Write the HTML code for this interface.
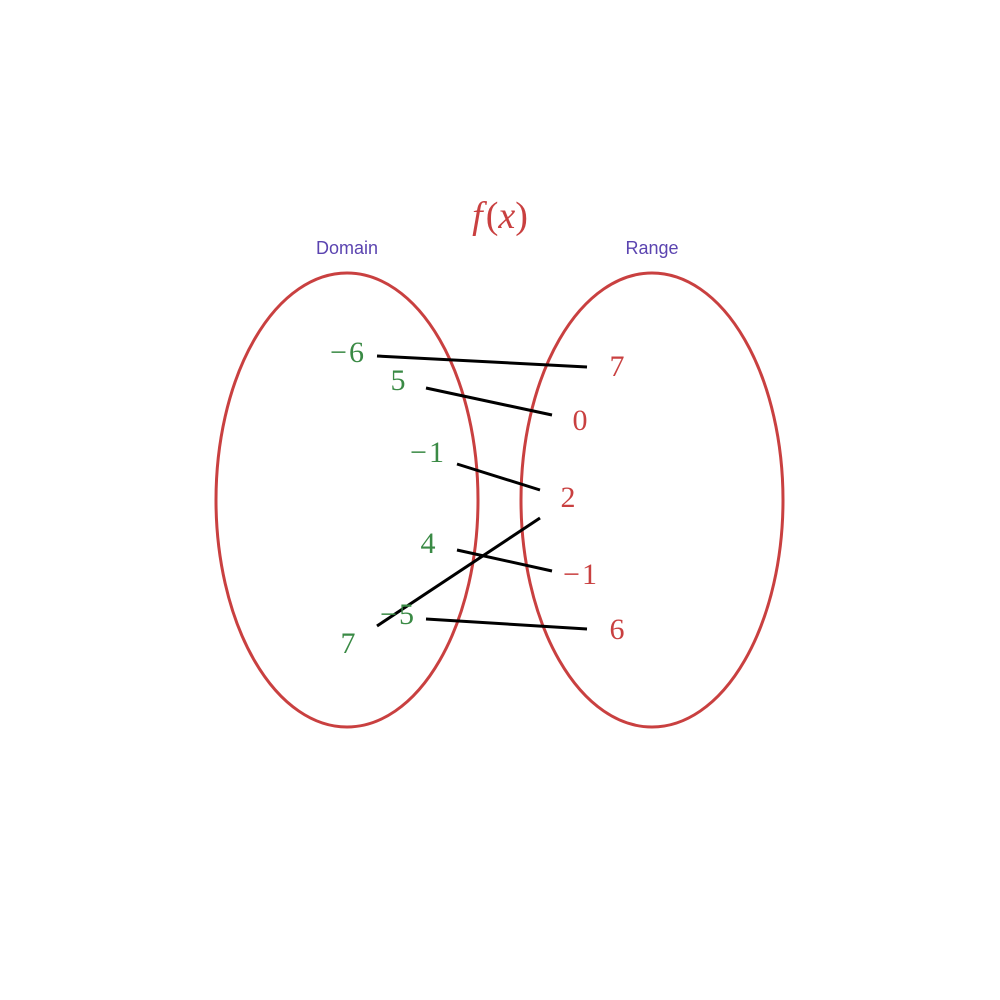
<!DOCTYPE html>
<html><head><style>body{margin:0;background:#fff}svg{display:block}</style></head><body>
<svg width="1000" height="1000" viewBox="0 0 1000 1000" xmlns="http://www.w3.org/2000/svg">
<rect width="1000" height="1000" fill="#fff"/>
<ellipse cx="347" cy="500" rx="131" ry="227" fill="none" stroke="#c94040" stroke-width="3"/>
<ellipse cx="652" cy="500" rx="131" ry="227" fill="none" stroke="#c94040" stroke-width="3"/>
<text x="500" y="228" text-anchor="middle" font-family="Liberation Serif, serif" font-size="38" fill="#c94040"><tspan font-style="italic">f</tspan><tspan dx="3">(</tspan><tspan font-style="italic">x</tspan>)</text>
<text x="347" y="254" text-anchor="middle" font-family="Liberation Sans, sans-serif" font-size="18" fill="#5b44b0">Domain</text>
<text x="652" y="254" text-anchor="middle" font-family="Liberation Sans, sans-serif" font-size="18" fill="#5b44b0">Range</text>
<g stroke="#000" stroke-width="3">
<line x1="377" y1="356" x2="587" y2="367"/>
<line x1="426" y1="388" x2="552" y2="415"/>
<line x1="457" y1="464" x2="540" y2="490"/>
<line x1="540" y1="518" x2="377" y2="626"/>
<line x1="457" y1="550" x2="552" y2="571"/>
<line x1="426" y1="619" x2="587" y2="629"/>
</g>
<g font-family="Liberation Serif, serif" font-size="30" fill="#3a8a45" text-anchor="middle">
<text x="348" y="362" letter-spacing="2">−6</text>
<text x="398" y="390">5</text>
<text x="428" y="462" letter-spacing="2">−1</text>
<text x="428" y="553">4</text>
<text x="398" y="624" letter-spacing="2">−5</text>
<text x="348" y="653">7</text>
</g>
<g font-family="Liberation Serif, serif" font-size="30" fill="#c94040" text-anchor="middle">
<text x="617" y="376">7</text>
<text x="580" y="430">0</text>
<text x="568" y="507">2</text>
<text x="581" y="584" letter-spacing="2">−1</text>
<text x="617" y="639">6</text>
</g>
</svg>
</body></html>
